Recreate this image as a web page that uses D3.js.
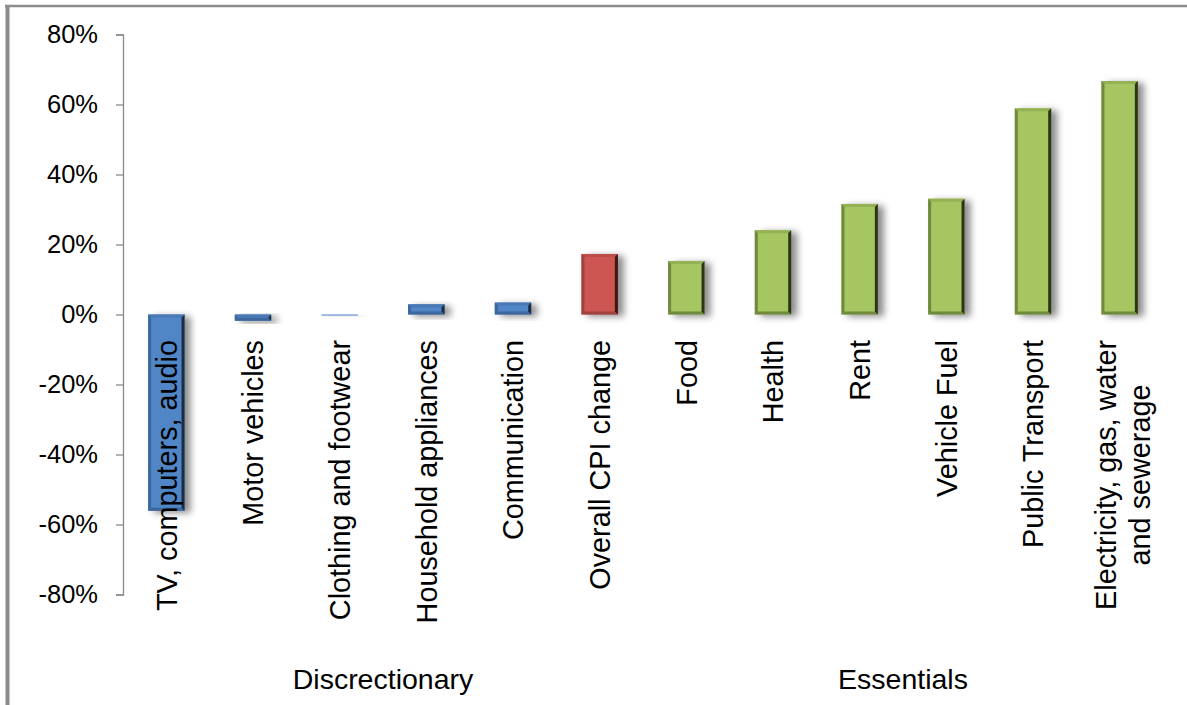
<!DOCTYPE html>
<html>
<head>
<meta charset="utf-8">
<script src="https://cdn.jsdelivr.net/npm/d3@7"></script>
<style>
  html, body { margin: 0; padding: 0; background: #fff; }
  svg { display: block; font-family: "Liberation Sans", Arial, sans-serif; }
</style>
</head>
<body>
<div id="chart"></div>
<script>
(function () {
  // data
  const categories = [
    ["TV, computers, audio"],
    ["Motor vehicles"],
    ["Clothing and footwear"],
    ["Household appliances"],
    ["Communication"],
    ["Overall CPI change"],
    ["Food"],
    ["Health"],
    ["Rent"],
    ["Vehicle Fuel"],
    ["Public Transport"],
    ["Electricity, gas, water", "and sewerage"]
  ];
  const changes = [-0.561, -0.018, -0.003, 0.029, 0.034, 0.173, 0.153, 0.241, 0.316, 0.331, 0.589, 0.667];
  const kinds = ["disc", "disc", "disc", "disc", "disc", "total", "ess", "ess", "ess", "ess", "ess", "ess"];
  const groups = ["Discrectionary", "Essentials"];
  const groupSize = [6, 6];
  const yTicks = [-0.8, -0.6, -0.4, -0.2, 0, 0.2, 0.4, 0.6, 0.8];

  const width = 1187;
  const height = 705;

  // face, left/bottom bevel, top bevel, right edge
  const palette = {
    disc:  { face: "#5085c6", side: "#3d679c", top: "#4a78b4", right: "#1b2c44" },
    total: { face: "#cd5653", side: "#a04240", top: "#bb4d4a", right: "#3a1614" },
    ess:   { face: "#a5c660", side: "#70893f", top: "#94b255", right: "#2a3516" }
  };

  const svg = d3.select("#chart").append("svg")
    .attr("width", width)
    .attr("height", height);

  const defs = svg.append("defs");
  const shadow = defs.append("filter")
    .attr("id", "bar-shadow")
    .attr("x", "-50%").attr("y", "-50%")
    .attr("width", "200%").attr("height", "200%");
  shadow.append("feGaussianBlur").attr("in", "SourceAlpha").attr("stdDeviation", 3.5).attr("result", "blur");
  shadow.append("feOffset").attr("in", "blur").attr("dx", 6).attr("dy", 2).attr("result", "off");
  shadow.append("feFlood").attr("flood-color", "#000").attr("flood-opacity", 0.45).attr("result", "col");
  shadow.append("feComposite").attr("in", "col").attr("in2", "off").attr("operator", "in");

  // outer frame (only top and left edges are visible in the crop)
  svg.append("line")
    .attr("x1", 7.5).attr("y1", 5).attr("x2", 7.5).attr("y2", height)
    .attr("stroke", "#8c8c8c").attr("stroke-width", 4);
  svg.append("line")
    .attr("x1", 5).attr("y1", 6).attr("x2", width).attr("y2", 6)
    .attr("stroke", "#8c8c8c").attr("stroke-width", 2.5);

  const x = d3.scaleBand()
    .domain(d3.range(categories.length))
    .range([123, 1163])
    .paddingInner(0.58)
    .paddingOuter(0.29);

  const y = d3.scaleLinear()
    .domain([-0.8, 0.8])
    .range([594.5, 34.5]);

  // bars
  const barG = svg.append("g");
  changes.forEach((v, i) => {
    const x0 = x(i);
    const x1 = x0 + x.bandwidth();
    const yTop = Math.min(y(v), y(0));
    const yBot = Math.max(y(v), y(0));
    const h = Math.max(yBot - yTop, 1);
    const c = palette[kinds[i]];
    const g = barG.append("g");

    g.append("rect")
      .attr("x", x0).attr("y", yTop)
      .attr("width", x1 - x0).attr("height", h)
      .attr("fill", "#000")
      .attr("filter", "url(#bar-shadow)");

    g.append("rect")
      .attr("x", x0).attr("y", yTop)
      .attr("width", x1 - x0).attr("height", h)
      .attr("fill", c.face);

    const b = Math.min(3, h / 2);
    const yb = yTop + h;
    if (h > 2) {
      const poly = pts => g.append("polygon").attr("points", pts.map(p => p.join(",")).join(" "));
      poly([[x0, yTop], [x1, yTop], [x1 - b, yTop + b], [x0 + b, yTop + b]]).attr("fill", c.top);
      poly([[x0, yTop], [x0 + b, yTop + b], [x0 + b, yb - b], [x0, yb]]).attr("fill", c.side);
      poly([[x0, yb], [x0 + b, yb - b], [x1 - b, yb - b], [x1, yb]]).attr("fill", c.side);
      poly([[x1, yTop], [x1, yb], [x1 - b, yb - b], [x1 - b, yTop + b]]).attr("fill", c.right);
    }
  });

  // y axis (plain hyphen for negatives, as in the reference)
  const pct = d3.format(".0%");
  const yAxis = d3.axisLeft(y)
    .tickValues(yTicks)
    .tickFormat(d => pct(d).replace("\u2212", "-"))
    .tickSize(7)
    .tickPadding(18);

  const axG = svg.append("g")
    .attr("transform", "translate(123,0)")
    .call(yAxis);
  axG.selectAll("path, line").attr("stroke", "#898989").attr("stroke-width", 1.3);
  axG.selectAll("text")
    .attr("fill", "#000")
    .style("font-size", "25.5px")
    .style("font-family", "'Liberation Sans', Arial, sans-serif");

  // category labels, rotated, ending just under the zero line
  const labelTop = 340;
  const lineGap = 34;
  const labG = svg.append("g")
    .style("font-size", "28.8px")
    .attr("fill", "#000");
  categories.forEach((lines, i) => {
    const cx = x(i) + x.bandwidth() / 2;
    if (lines.length === 1) {
      labG.append("text")
        .attr("transform", `translate(${cx},${labelTop}) rotate(-90)`)
        .attr("text-anchor", "end")
        .attr("dy", "0.36em")
        .text(lines[0]);
    } else {
      const tmp = labG.append("text").text(lines[0]);
      let longest = 0;
      lines.forEach(l => {
        tmp.text(l);
        longest = Math.max(longest, tmp.node().getComputedTextLength());
      });
      tmp.remove();
      lines.forEach((l, k) => {
        const off = (k - (lines.length - 1) / 2) * lineGap + 3;
        labG.append("text")
          .attr("transform", `translate(${cx + off},${labelTop + longest / 2}) rotate(-90)`)
          .attr("text-anchor", "middle")
          .attr("dy", "0.36em")
          .text(l);
      });
    }
  });

  // group labels
  let start = 0;
  groups.forEach((name, gi) => {
    const first = start;
    const last = start + groupSize[gi] - 1;
    const gx0 = x(first) - x.step() * x.paddingOuter();
    const gx1 = x(last) + x.bandwidth() + x.step() * x.paddingOuter();
    svg.append("text")
      .attr("x", (gx0 + gx1) / 2)
      .attr("y", 689)
      .attr("text-anchor", "middle")
      .style("font-size", "28.5px")
      .attr("fill", "#000")
      .text(name);
    start = last + 1;
  });
})();
</script>
</body>
</html>
